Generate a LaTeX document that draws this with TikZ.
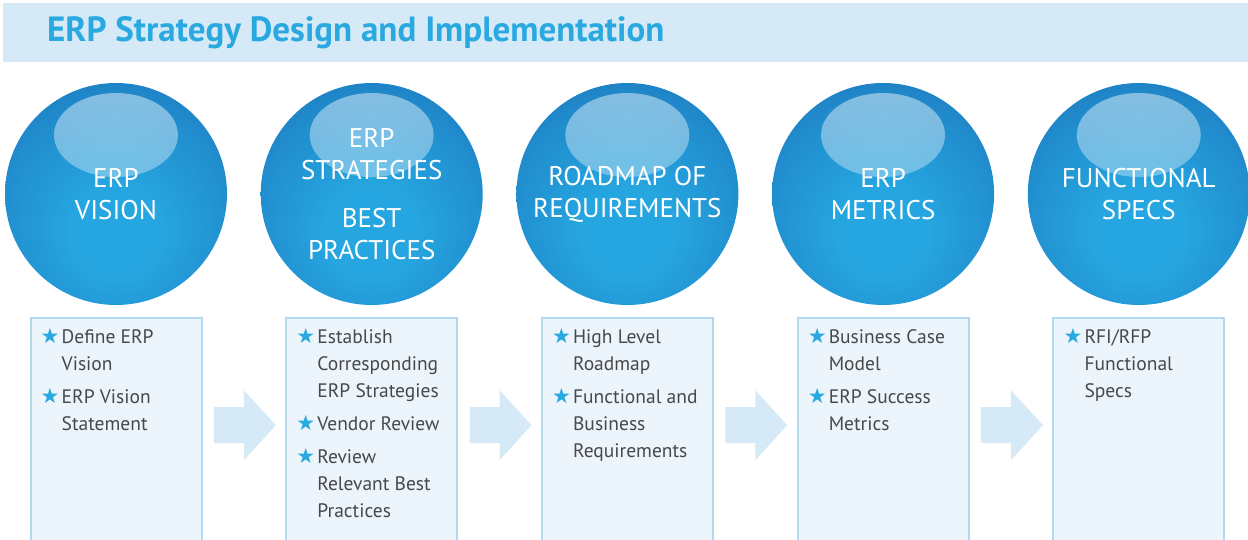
\documentclass[tikz,border=0pt]{standalone}
\usepackage{fontspec}
\setmainfont{PT Sans}
\newfontfamily\symfont{DejaVu Sans}
\usepackage{xcolor}
\definecolor{bandblue}{RGB}{214, 233, 246}
\definecolor{titleblue}{RGB}{41, 169, 224}
\definecolor{balledge}{RGB}{24, 98, 174}
\definecolor{ballmid}{RGB}{38, 166, 224}
\definecolor{boxfill}{RGB}{237, 245, 252}
\definecolor{boxline}{RGB}{180, 216, 240}
\definecolor{textgray}{RGB}{72, 72, 72}
\usepackage{tikz}
\usetikzlibrary{calc,positioning,fadings}

% glossy ball, bright spot a little below the middle
\pgfdeclareradialshading{ballshade}{\pgfpoint{0bp}{-10bp}}{%
  color(0bp)=(ballmid); color(10bp)=(ballmid); color(26bp)=(ballmid!65!balledge);
  color(42bp)=(balledge!85!ballmid); color(56bp)=(balledge); color(80bp)=(balledge)}
\tikzfading[name=glossfade, top color=transparent!15, bottom color=transparent!70]

\newcommand{\bstar}{\makebox[21pt][l]{\color{titleblue}\symfont\fontsize{21}{21}\selectfont ★}}
\newcommand{\erpitems}[1]{\begin{tabular}{@{}l@{}l@{}}#1\end{tabular}}

\begin{document}
\begin{tikzpicture}[x=1pt, y=-1pt,
    ball/.style={circle, minimum size=222pt, inner sep=0pt, shading=ballshade,
      text=white, align=center, font=\fontsize{27}{32}\selectfont,
      path picture={\fill[white, fill opacity=0.55, path fading=glossfade]
        ([yshift=59pt]path picture bounding box.center) ellipse (62pt and 42pt);}},
    itembox/.style={draw=boxline, line width=2pt, fill=boxfill,
      minimum width=171pt, minimum height=224pt, inner sep=0pt},
    itemlist/.style={anchor=north west, inner sep=0pt, text=textgray,
      font=\fontsize{19.5}{27}\selectfont},
    flowarrow/.style={fill=bandblue}]
    \useasboundingbox (0,0) rectangle (1248,540);

    % Title band
    \fill[bandblue] (3,3) rectangle (1248,62);
    \node[anchor=base west, inner sep=0pt, text=titleblue,
      font=\bfseries\fontsize{35}{35}\selectfont] (title) at (47,42)
      {ERP Strategy Design and Implementation};

    % Phase balls
    \node[ball] (c1) at (116,194) {ERP\\VISION};
    \node[ball] (c2) at (371.7,194) {ERP\\STRATEGIES\\[16pt]BEST\\PRACTICES};
    \node[ball] (c3) at (627.4,194) {ROADMAP OF\\REQUIREMENTS};
    \node[ball] (c4) at (883.1,194) {ERP\\METRICS};
    \node[ball] (c5) at (1138.8,194) {FUNCTIONAL\\SPECS};

    % Boxes under the balls
    \node[itembox, below=12pt of c1] (b1) {};
    \node[itembox, below=12pt of c2] (b2) {};
    \node[itembox, below=12pt of c3] (b3) {};
    \node[itembox, below=12pt of c4] (b4) {};
    \node[itembox, below=12pt of c5] (b5) {};

    % Bullet lists
    \node[itemlist] (l1) at ([xshift=11pt,yshift=-7pt]b1.north west)
      {\erpitems{\bstar & Define ERP\\ & Vision\\[6pt] \bstar & ERP Vision\\ & Statement}};
    \node[itemlist] (l2) at ([xshift=11pt,yshift=-7pt]b2.north west)
      {\erpitems{\bstar & Establish\\ & Corresponding\\ & ERP Strategies\\[6pt]
        \bstar & Vendor Review\\[6pt] \bstar & Review\\ & Relevant Best\\ & Practices}};
    \node[itemlist] (l3) at ([xshift=11pt,yshift=-7pt]b3.north west)
      {\erpitems{\bstar & High Level\\ & Roadmap\\[6pt] \bstar & Functional and\\ & Business\\ & Requirements}};
    \node[itemlist] (l4) at ([xshift=11pt,yshift=-7pt]b4.north west)
      {\erpitems{\bstar & Business Case\\ & Model\\[6pt] \bstar & ERP Success\\ & Metrics}};
    \node[itemlist] (l5) at ([xshift=11pt,yshift=-7pt]b5.north west)
      {\erpitems{\bstar & RFI/RFP\\ & Functional\\ & Specs}};

    % Block arrows between the boxes
    \foreach \i [evaluate=\i as \j using int(\i+1)] in {1,...,4} {
      \coordinate (m\i) at ($(b\i.east)!0.5!(b\j.west)$);
      \fill[flowarrow] ($(m\i)+(-30,-23)$) -- ($(m\i)+(0,-23)$) -- ($(m\i)+(0,-40)$)
        -- ($(m\i)+(32,-5)$) -- ($(m\i)+(0,30)$) -- ($(m\i)+(0,13)$)
        -- ($(m\i)+(-30,13)$) -- cycle;
    }
\end{tikzpicture}
\end{document}
